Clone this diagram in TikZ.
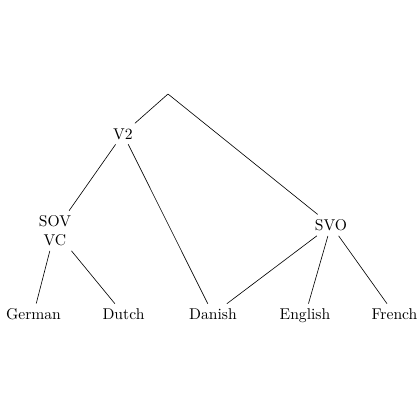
\documentclass[tikz,border=0pt]{standalone}
\begin{document}
\begin{tikzpicture}[x=0.64pt,y=-0.64pt,
  lab/.style={inner sep=3pt,anchor=base},
  edge/.style={draw=black,line width=0.4pt}]
\useasboundingbox (0,0) rectangle (420,420);
\coordinate (root) at (168,94);
\node[lab] (v2) at (123,139) {V2};
\node[lab,align=center] (sov) at (55,245.5) {SOV\\VC};
\node[lab] (svo) at (331,230.5) {SVO};
\node[lab] (german) at (33.5,319.5) {German};
\node[lab] (dutch) at (123.5,319.5) {Dutch};
\node[lab] (danish) at (213,319.5) {Danish};
\node[lab] (english) at (305,319.5) {English};
\node[lab] (french) at (394.5,319.5) {French};
\draw[edge] (root) -- (v2);
\draw[edge] (root) -- (svo);
\draw[edge] (v2) -- (sov);
\draw[edge] (v2) -- (danish);
\draw[edge] (sov) -- (german);
\draw[edge] (sov) -- (dutch);
\draw[edge] (svo) -- (danish);
\draw[edge] (svo) -- (english);
\draw[edge] (svo) -- (french);
\end{tikzpicture}
\end{document}
